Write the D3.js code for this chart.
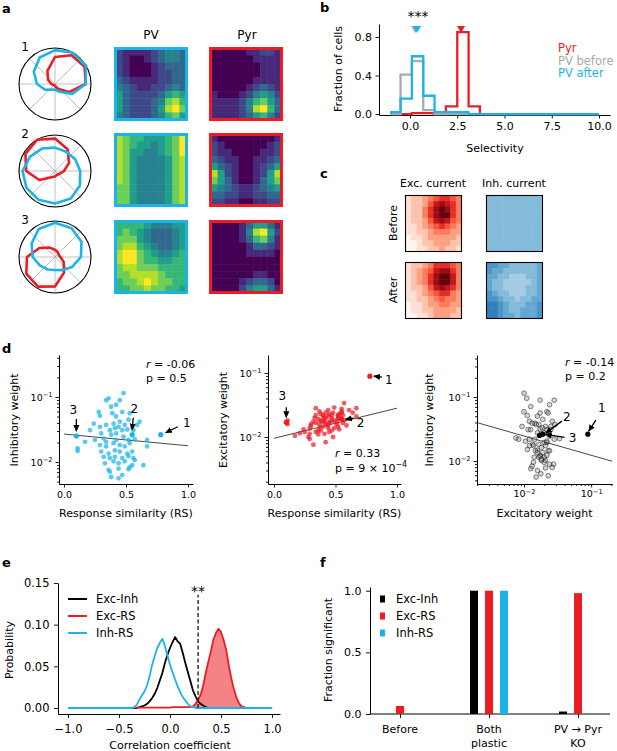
<!DOCTYPE html>
<html>
<head>
<meta charset="utf-8">
<script src="https://cdnjs.cloudflare.com/ajax/libs/d3/7.8.5/d3.min.js"></script>
<style>
  body { margin: 0; background: #fff; }
</style>
</head>
<body>
<script>
// ---------- data ----------
// a: direction tuning (12 directions, normalised) and rate maps (0-9)
const directions = [0, 30, 60, 90, 120, 150, 180, 210, 240, 270, 300, 330];
const pvTuning = [
  [0.85, 1.0, 1.0, 0.94, 0.85, 0.68, 0.5, 0.32, 0.18, 0.16, 0.25, 0.55],
  [0.7, 0.65, 0.62, 0.65, 0.72, 0.8, 0.9, 0.92, 0.92, 0.9, 0.88, 0.8],
  [0.72, 0.85, 0.92, 0.95, 0.9, 0.75, 0.62, 0.48, 0.4, 0.36, 0.42, 0.55]
];
const pyrTuning = [
  [0.85, 0.95, 0.92, 0.75, 0.42, 0.22, 0.1, 0.05, 0.04, 0.06, 0.15, 0.45],
  [0.25, 0.45, 0.7, 0.9, 1.0, 0.95, 0.8, 0.5, 0.2, 0.15, 0.12, 0.15],
  [0.15, 0.12, 0.15, 0.2, 0.3, 0.5, 0.78, 0.92, 0.95, 0.82, 0.5, 0.28]
];
const pvMaps = [
  ["2111123443", "2100123443", "2100012333", "2100012233", "3211112233",
   "4321122343", "5322223565", "5322234786", "5322235897", "4322234675"],
  ["8766555679", "8765545679", "8755445679", "8754444578", "8754444578",
   "8754444578", "8754444578", "7754444578", "7754444578", "7754444578"],
  ["6666544455", "6765433345", "7775433345", "7886543345", "8997654456",
   "8997665566", "7887776666", "7788887666", "6778987766", "6677877665"]
];
const pyrMaps = [
  ["0000011221", "0000001111", "0000000111", "0000000111", "0000001111",
   "0000012321", "1000124542", "1111246753", "1111248963", "1111235642"],
  ["1000000001", "2100000012", "2110000112", "3211001123", "5321001235",
   "8521001258", "7531001357", "5432112345", "3322112233", "2211001122"],
  ["0000135531", "0000148952", "0000136741", "0000013321", "0000011110",
   "0000000000", "0000000000", "0000001100", "0000123320", "0000245531"]
];

// b: selectivity histograms
const selBinEdges = [-1, -0.5, 0.1, 0.7, 1.3, 1.9, 2.5, 3.1, 3.7, 10];
const pyrHist = [0, 0, 0.01, 0.01, 0, 0.08, 0.85, 0.08, 0];
const pvBeforeHist = [0, 0.41, 0.55, 0.04, 0, 0, 0, 0, 0];
const pvAfterHist = [0.02, 0.16, 0.60, 0.19, 0.02, 0.02, 0.02, 0, 0];
const selGroups = ["Pyr", "PV before", "PV after"];
const selMeans = [2.7, 0.27, 0.37];

// c: input current maps (0-9)
const excBefore = ["1223456654", "1223578764", "1224689864", "1224689964", "1223578754",
                   "1123456543", "1122344433", "0112333332", "0012233322", "0011223221"];
const excAfter = ["1223466654", "1234578864", "1234689974", "1234689974", "1223578764",
                  "1123456643", "1122345443", "0112334433", "0112233332", "0011233322"];
const inhBefore = ["4444444444", "4444444444", "4444444444", "4444444444", "4444444444",
                   "4444444444", "4444444444", "4444444444", "4444444444", "4444444444"];
const inhAfter = ["6655444445", "6554444445", "5544333445", "5443333345", "5443333445",
                  "6544333445", "6654434455", "7765444556", "7765445556", "7765545556"];

// d: per-cell response similarity and log10 weights
const rs = [0.48, 0.36, 0.34, 0.42, 0.28, 0.29, 0.39, 0.42, 0.47, 0.52,
            0.55, 0.61, 0.21, 0.29, 0.34, 0.40, 0.44, 0.47, 0.51, 0.56,
            0.10, 0.55, 0.78, 0.25, 0.32, 0.38, 0.42, 0.48, 0.52, 0.57,
            0.67, 0.17, 0.29, 0.34, 0.40, 0.45, 0.49, 0.53, 0.11, 0.11,
            0.30, 0.36, 0.41, 0.45, 0.51, 0.55, 0.32, 0.37, 0.41, 0.47,
            0.52, 0.56, 0.40, 0.44, 0.49, 0.33, 0.55, 0.57, 0.64, 0.36,
            0.44, 0.52, 0.37, 0.47, 0.38, 0.44, 0.53, 0.30, 0.37, 0.45,
            0.49, 0.59, 0.41, 0.53, 0.24, 0.38, 0.45, 0.67, 0.34, 0.42];
const inhLog = [-0.94, -1.02, -1.05, -1.12, -1.23, -1.29, -1.25, -1.30, -1.23, -1.35,
                -1.46, -1.38, -1.51, -1.46, -1.43, -1.41, -1.46, -1.51, -1.50, -1.51,
                -1.60, -1.58, -1.58, -1.66, -1.64, -1.58, -1.56, -1.61, -1.66, -1.65,
                -1.76, -1.69, -1.74, -1.76, -1.71, -1.74, -1.76, -1.71, -1.79, -1.83,
                -1.84, -1.87, -1.82, -1.84, -1.87, -1.84, -1.92, -1.94, -1.92, -1.94,
                -1.91, -1.94, -1.99, -2.02, -1.99, -2.02, -2.05, -1.97, -2.05, -2.12,
                -2.10, -2.11, -2.15, -2.20, -2.23, -2.25, -2.08, -1.56, -1.51, -1.38,
                -1.43, -1.43, -1.48, -1.25, -1.41, -1.15, -1.05, -1.66, -1.69, -1.66];
const excLog = [-2.00, -1.96, -1.55, -1.62, -2.00, -1.95, -1.76, -1.80, -1.66, -1.72,
                -1.60, -1.58, -1.94, -2.03, -1.78, -1.84, -1.68, -1.90, -1.76, -1.66,
                -1.77, -1.72, -1.05, -1.92, -2.12, -1.74, -1.70, -1.62, -1.84, -1.47,
                -1.68, -1.98, -1.87, -1.92, -1.66, -1.78, -1.86, -1.70, -1.74, -1.80,
                -1.83, -1.72, -1.95, -1.64, -1.80, -1.62, -1.76, -1.85, -1.76, -1.70,
                -1.66, -1.78, -1.68, -1.86, -1.74, -1.70, -1.56, -1.74, -1.62, -1.90,
                -1.58, -1.68, -1.80, -1.75, -1.64, -1.82, -1.88, -1.80, -1.60, -1.92,
                -1.54, -1.82, -1.73, -1.64, -1.88, -1.90, -1.76, -1.55, -1.66, -2.08];
const exampleCells = [22, 21, 20];           // cells "1", "2", "3"
const fitInhRS = [-1.57, -0.18];             // intercept, slope (log10 w vs RS)
const fitExcRS = [-2.02, 0.47];
const fitInhExc = [-2.21, -0.30];            // log-log
const statsD = [["-0.06", "0.5"], ["0.33", "9e-4"], ["-0.14", "0.2"]];

// e: null distributions of correlation coefficients (bins -1 .. 1, step 0.025)
const corrBins = d3.range(81).map(i => -1 + i * 0.025);
const distExcInh = [0,0,0,0,0,0,0,0,0,0, 0,0,0,0,0,0,0,0,0,0, 0,0,0,0,0,0,0,0,
  0.001,0.002,0.003,0.005,0.008,0.012,0.017,0.024,0.033,0.042,0.054,0.064,0.072,0.079,
  0.085,0.080,0.077,0.066,0.054,0.043,0.032,0.021,0.014,0.008,0.005,0.003,0.001,
  0,0,0,0,0,0,0,0,0,0, 0,0,0,0,0,0,0,0,0,0, 0,0,0,0,0,0];
const distExcRS = [0,0,0,0,0,0,0,0,0,0, 0,0,0,0,0,0,0,0,0,0, 0,0,0,0,0,0,
  0.0005,0.0005,0.0005,0.0005,0.0005,0.0005,0.0005,0.0005,0.0005,0.0005,0.0005,
  0.0005,0.0005,0.0005,0.0005,0.001,0.001,0.001,0.001,0.001,0.001,0.001,
  0.001,0.002,0.005,0.010,0.016,0.027,0.042,0.055,0.068,0.082,0.090,0.095,0.091,
  0.082,0.070,0.052,0.036,0.023,0.013,0.006,0.002,0.001,
  0,0,0,0,0,0,0,0,0,0,0];
const distInhRS = [0,0,0,0,0,0,0,0,0,0, 0,0,0,0,0,0,0,0,0,0, 0,0,0,0,0,0,
  0.001,0.004,0.010,0.015,0.020,0.027,0.038,0.052,0.062,0.072,0.078,0.083,0.074,
  0.063,0.052,0.043,0.034,0.026,0.019,0.013,0.009,0.005,0.002,0.001,
  0,0,0,0,0,0,0,0,0,0, 0,0,0,0,0,0,0,0,0,0, 0,0,0,0,0,0,0,0,0,0,0];
const sigThreshold = 0.275;
const sigTop = 0.136;

// f: fraction of significant correlations
const conditions = ["Before", "Both plastic", "PV → Pyr KO"];
const conditionLines = [["Before"], ["Both", "plastic"], ["PV → Pyr", "KO"]];
const pairNames = ["Exc-Inh", "Exc-RS", "Inh-RS"];
const fracExcInh = [0, 1.0, 0.02];
const fracExcRS = [0.065, 1.0, 0.98];
const fracInhRS = [0, 1.0, 0];

// ---------- drawing ----------
const FONT = "DejaVu Sans";
const BLUE = "#1cb4e8", RED = "#ec1c24", GRAY = "#aaaaaa";
const pairColors = ["#000000", RED, BLUE];

const svg = d3.select("body").append("svg")
  .attr("width", 617).attr("height", 751)
  .attr("font-family", FONT);

svg.append("defs").append("marker")
  .attr("id", "ah").attr("viewBox", "0 -4 8 8").attr("refX", 7).attr("refY", 0)
  .attr("markerWidth", 7).attr("markerHeight", 7).attr("markerUnits", "userSpaceOnUse")
  .attr("orient", "auto")
  .append("path").attr("d", "M0,-3.5L8,0L0,3.5Z").attr("fill", "#000");

function text(x, y, s, opt = {}) {
  const t = svg.append("text").attr("x", x).attr("y", y).text(s)
    .attr("font-size", opt.size || 11)
    .attr("text-anchor", opt.anchor || "middle")
    .attr("dominant-baseline", opt.baseline || "auto")
    .attr("fill", opt.fill || "#000");
  if (opt.bold) t.attr("font-weight", "bold");
  if (opt.rotate) t.attr("transform", `rotate(-90,${x},${y})`);
  return t;
}

function axis(gen, translate, fs, size = 3.5, pad = 3.5) {
  const g = svg.append("g").attr("transform", translate)
    .call(gen.tickSize(size).tickPadding(pad).tickSizeOuter(0));
  g.attr("font-family", FONT).attr("font-size", fs);
  g.select(".domain").attr("stroke", "#000").attr("stroke-width", 1);
  g.selectAll(".tick line").attr("stroke", "#000").attr("stroke-width", 0.9);
  return g;
}

function logAxis(scale, left, translate, fs) {
  const all = scale.ticks();
  const isMajor = v => Math.abs(Math.log10(v) - Math.round(Math.log10(v))) < 1e-6;
  const major = all.filter(isMajor), minor = all.filter(v => !isMajor(v));
  const mk = left ? d3.axisLeft : d3.axisBottom;
  axis(mk(scale).tickValues(minor).tickFormat(""), translate, fs, 2, 3);
  const g = axis(mk(scale).tickValues(major), translate, fs, 3.5, 3);
  g.select(".domain").remove();
  g.selectAll(".tick text").each(function (d) {
    const t = d3.select(this).text(null);
    t.append("tspan").text("10");
    t.append("tspan").attr("dy", "-0.55em").attr("font-size", fs * 0.7)
      .text("−" + Math.abs(Math.round(Math.log10(d))));
  });
}

function heatmap(rows, x0, y0, size, color, border, bw) {
  const n = rows.length;
  const cx = d3.scaleBand().domain(d3.range(n)).range([x0, x0 + size]);
  const cy = d3.scaleBand().domain(d3.range(n)).range([y0, y0 + size]);
  const cells = rows.flatMap((row, r) => row.split("").map((c, k) => ({ r, k, v: +c })));
  const g = svg.append("g");
  g.selectAll("rect").data(cells).join("rect")
    .attr("x", d => cx(d.k)).attr("y", d => cy(d.r))
    .attr("width", cx.bandwidth() + 0.5).attr("height", cy.bandwidth() + 0.5)
    .attr("fill", d => color(d.v));
  g.append("rect").attr("x", x0).attr("y", y0).attr("width", size).attr("height", size)
    .attr("fill", "none").attr("stroke", border).attr("stroke-width", bw);
}

// panel letters
[["a", 2, 13], ["b", 320, 12], ["c", 320, 178], ["d", 2, 353], ["e", 2, 567], ["f", 320, 567]]
  .forEach(([s, x, y]) => text(x, y, s, { size: 13, bold: true, anchor: "start" }));

// ---- a
const polarR = 36, polarCx = 55;
const rowCy = [84, 171, 257], mapTop = [47, 133, 220];
const rScale = d3.scaleLinear().domain([0, 1]).range([0, polarR]);
const radial = d3.lineRadial()
  .angle(d => (90 - d.dir) * Math.PI / 180)
  .radius(d => rScale(d.r))
  .curve(d3.curveLinearClosed);
const viridis = v => d3.interpolateViridis(v / 9);

text(151, 35, "PV", { size: 12, baseline: "central" });
text(247, 35, "Pyr", { size: 12, baseline: "central" });

rowCy.forEach((cy, i) => {
  const g = svg.append("g").attr("transform", `translate(${polarCx},${cy})`);
  [0, 45, 90, 135].forEach(a => {
    const t = a * Math.PI / 180;
    g.append("line")
      .attr("x1", -polarR * Math.cos(t)).attr("y1", polarR * Math.sin(t))
      .attr("x2", polarR * Math.cos(t)).attr("y2", -polarR * Math.sin(t))
      .attr("stroke", "#b0b0b0").attr("stroke-width", 0.8);
  });
  g.append("circle").attr("r", polarR).attr("fill", "none")
    .attr("stroke", "#000").attr("stroke-width", 1.1);
  g.append("path").attr("d", radial(directions.map((dir, k) => ({ dir, r: pyrTuning[i][k] }))))
    .attr("fill", "none").attr("stroke", RED).attr("stroke-width", 2.6).attr("stroke-linejoin", "round");
  g.append("path").attr("d", radial(directions.map((dir, k) => ({ dir, r: pvTuning[i][k] }))))
    .attr("fill", "none").attr("stroke", BLUE).attr("stroke-width", 2.6).attr("stroke-linejoin", "round");
  text(25, cy - 37, String(i + 1), { size: 12, baseline: "central" });

  heatmap(pvMaps[i], 115.5, mapTop[i] + 1.5, 71, viridis, BLUE, 3);
  heatmap(pyrMaps[i], 210.5, mapTop[i] + 1.5, 71, viridis, RED, 3);
});

// ---- b
const bX = d3.scaleLinear().domain([-1.64, 10.58]).range([379, 610]);
const bY = d3.scaleLinear().domain([-0.01, 0.935]).range([115, 24]);
axis(d3.axisBottom(bX).tickValues([0, 2.5, 5, 7.5, 10]).tickFormat(d3.format(".1f")),
  "translate(0,115)", 11, 3.5, 3.5);
axis(d3.axisLeft(bY).tickValues([0, 0.4, 0.8]).tickFormat(d3.format(".1f")),
  "translate(379,0)", 11, 3.5, 3.5);
text(495, 152, "Selectivity", { size: 11 });
text(338, 69, "Fraction of cells", { size: 11, rotate: true, baseline: "central" });

const stepLine = d3.line().x(d => bX(d[0])).y(d => bY(d[1]));
function stepPts(vals) {
  const pts = [[selBinEdges[0], 0]];
  vals.forEach((v, i) => pts.push([selBinEdges[i], v], [selBinEdges[i + 1], v]));
  pts.push([selBinEdges[selBinEdges.length - 1], 0]);
  return pts;
}
const selColors = [RED, GRAY, BLUE];
[pyrHist, pvBeforeHist, pvAfterHist].forEach((h, i) => {
  svg.append("path").attr("d", stepLine(stepPts(h))).attr("fill", "none")
    .attr("stroke", selColors[i]).attr("stroke-width", 2.3);
});
selMeans.forEach((m, i) => {
  svg.append("path").attr("d", d3.symbol().type(d3.symbolTriangle).size(28)())
    .attr("transform", `translate(${bX(m)},${bY(0.9) + 1}) rotate(180)`)
    .attr("fill", selColors[i]);
});
text(418, 21, "***", { size: 14 });
selGroups.forEach((s, i) => text(558, 48 + i * 12.5, s, { size: 11.5, anchor: "start", baseline: "central", fill: selColors[i] }));

// ---- c
const reds = v => d3.interpolateReds(v / 9);
const blues = v => d3.interpolateBlues(0.1 + v * 0.085);
text(433, 183, "Exc. current", { size: 11, baseline: "central" });
text(514, 183, "Inh. current", { size: 11, baseline: "central" });
text(393, 223, "Before", { size: 11, rotate: true, baseline: "central" });
text(393, 290, "After", { size: 11, rotate: true, baseline: "central" });
heatmap(excBefore, 405.5, 195.5, 56, reds, "#000", 1.1);
heatmap(inhBefore, 486.5, 195.5, 56, blues, "#000", 1.1);
heatmap(excAfter, 405.5, 262.5, 56, reds, "#000", 1.1);
heatmap(inhAfter, 486.5, 262.5, 56, blues, "#000", 1.1);

// ---- d
const dPanels = [
  { x: d3.scaleLinear().domain([-0.04, 1.04]).range([59, 193]),
    y: d3.scaleLog().domain([10 ** -2.338, 10 ** -0.354]).range([484, 355]),
    xv: rs, yv: inhLog, fit: fitInhRS, xlog: false, color: BLUE,
    xLabel: "Response similarity (RS)", yLabel: "Inhibitory weight", yLabelX: 14,
    stats: statsD[0], statsX: 146, statsY: 364,
    ann: [[26, -12, 17, -8, 5, -2], [2, -26, 1, -17, 0, -5], [-3, -26, 0, -17, 0, -5]] },
  { x: d3.scaleLinear().domain([-0.049, 1.033]).range([268, 401]),
    y: d3.scaleLog().domain([10 ** -2.734, 10 ** -0.719]).range([484, 355]),
    xv: rs, yv: excLog, fit: fitExcRS, xlog: false, color: RED,
    xLabel: "Response similarity (RS)", yLabel: "Excitatory weight", yLabelX: 223,
    stats: statsD[1], statsX: 335, statsY: 453,
    ann: [[19, 4, 12, 1, 4, 0], [19, 4, 12, -1, 4, 0], [-4, -26, 0, -15, 0, -5]] },
  { x: d3.scaleLog().domain([10 ** -2.70, 10 ** -0.69]).range([477, 612]),
    y: d3.scaleLog().domain([10 ** -2.359, 10 ** -0.344]).range([484, 355]),
    xv: excLog, yv: inhLog, fit: fitInhExc, xlog: true, color: "#000",
    xLabel: "Excitatory weight", yLabel: "Inhibitory weight", yLabelX: 429,
    stats: statsD[2], statsX: 565, statsY: 362,
    ann: [[14, -26, 8, -14, 1, -3], [24, -17, 19, -13, 3, -1], [33, 3, 25, 2, 6, -1]] }
];

dPanels.forEach((p, pi) => {
  const [x0, x1] = p.x.range();
  if (p.xlog) logAxis(p.x, false, "translate(0,484)", 9.5);
  else axis(d3.axisBottom(p.x).tickValues([0, 0.5, 1]).tickFormat(d3.format(".1f")),
    "translate(0,484)", 9.5, 3.5, 3.5);
  logAxis(p.y, true, `translate(${x0},0)`, 9.5);
  text((x0 + x1) / 2, 517, p.xLabel, { size: 11 });
  text(p.yLabelX, 420, p.yLabel, { size: 11, rotate: true, baseline: "central" });

  // regression line
  const fx = p.xlog ? p.x.domain() : [0, 1];
  const fitY = v => 10 ** (p.fit[0] + p.fit[1] * (p.xlog ? Math.log10(v) : v));
  svg.append("line")
    .attr("x1", p.x(fx[0])).attr("y1", p.y(fitY(fx[0])))
    .attr("x2", p.x(fx[1])).attr("y2", p.y(fitY(fx[1])))
    .attr("stroke", "#333").attr("stroke-width", 0.9);

  const pts = p.xv.map((v, i) => ({ i, x: p.xlog ? 10 ** v : v, y: 10 ** p.yv[i] }));
  const base = pts.filter(d => !exampleCells.includes(d.i));
  const dots = svg.append("g").selectAll("circle").data(base).join("circle")
    .attr("cx", d => p.x(d.x)).attr("cy", d => p.y(d.y)).attr("r", 2.4);
  if (pi < 2) dots.attr("fill", p.color).attr("fill-opacity", 0.72);
  else dots.attr("fill", "#808080").attr("fill-opacity", 0.35)
    .attr("stroke", "#000").attr("stroke-opacity", 0.55).attr("stroke-width", 0.8);

  exampleCells.forEach((ci, k) => {
    const d = pts.find(q => q.i === ci);
    const cx = p.x(d.x), cy = p.y(d.y), a = p.ann[k];
    svg.append("circle").attr("cx", cx).attr("cy", cy).attr("r", 2.6).attr("fill", p.color);
    svg.append("line").attr("x1", cx + a[2]).attr("y1", cy + a[3])
      .attr("x2", cx + a[4]).attr("y2", cy + a[5])
      .attr("stroke", "#000").attr("stroke-width", 1.3).attr("marker-end", "url(#ah)");
    text(cx + a[0], cy + a[1], String(k + 1), { size: 12, baseline: "central" });
  });

  // statistics
  const tr = text(p.statsX, p.statsY, "", { size: 11, anchor: "start", baseline: "central" });
  tr.append("tspan").attr("font-style", "italic").text("r");
  tr.append("tspan").text(" = " + p.stats[0]);
  const tp = text(p.statsX, p.statsY + 14.5, "", { size: 11, anchor: "start", baseline: "central" });
  if (p.stats[1].includes("e")) {
    const [m, e] = p.stats[1].split("e");
    tp.append("tspan").text("p = " + m + " × 10");
    tp.append("tspan").attr("dy", "-0.5em").attr("font-size", 8).text("−" + Math.abs(+e));
  } else tp.text("p = " + p.stats[1]);
});

// ---- e
const eX = d3.scaleLinear().domain([-1.098, 1.078]).range([58, 280]);
const eY = d3.scaleLinear().domain([-0.0072, 0.15]).range([714, 583]);
axis(d3.axisBottom(eX).tickValues([-1, -0.5, 0, 0.5, 1]).tickFormat(d3.format(".1f")),
  "translate(0,714)", 11.5, 4, 6.5);
axis(d3.axisLeft(eY).tickValues([0, 0.05, 0.10, 0.15]).tickFormat(d3.format(".2f")),
  "translate(58,0)", 11.5, 4, 4.5);
text(170, 749, "Correlation coefficient", { size: 11 });
text(9, 650, "Probability", { size: 11, rotate: true, baseline: "central" });

const eLine = d3.line().x((d, i) => eX(corrBins[i])).y(d => eY(d));
const eArea = d3.area().x((d, i) => eX(corrBins[i])).y0(eY(0)).y1(d => eY(d));
svg.append("path").attr("d", eArea(distExcRS)).attr("fill", RED).attr("fill-opacity", 0.55);
[distExcInh, distExcRS, distInhRS].forEach((dist, i) => {
  svg.append("path").attr("d", eLine(dist)).attr("fill", "none")
    .attr("stroke", pairColors[i]).attr("stroke-width", 1.8).attr("stroke-linejoin", "round");
});
svg.append("line").attr("x1", eX(sigThreshold)).attr("x2", eX(sigThreshold))
  .attr("y1", eY(0)).attr("y2", eY(sigTop))
  .attr("stroke", "#000").attr("stroke-width", 1.2).attr("stroke-dasharray", "4,2.5");
text(eX(sigThreshold), 596, "**", { size: 14 });
pairNames.forEach((s, i) => {
  const y = 599 + i * 17;
  svg.append("line").attr("x1", 68).attr("x2", 87).attr("y1", y).attr("y2", y)
    .attr("stroke", pairColors[i]).attr("stroke-width", 2);
  text(96, y, s, { size: 11.5, anchor: "start", baseline: "central" });
});

// ---- f
const fX = d3.scalePoint().domain(conditions).range([400, 578]);
const fSub = d3.scalePoint().domain(pairNames).range([-15, 15]);
const fY = d3.scaleLinear().domain([0, 1.03]).range([714, 587]);
const fx = axis(d3.axisBottom(fX).tickFormat(""), "translate(0,714)", 11, 4, 6.5);
fx.select(".domain").attr("d", "M370,0H610");
conditions.forEach((c, i) => {
  conditionLines[i].forEach((s, j) => text(fX(c), 733 + j * 14, s, { size: 11 }));
});
axis(d3.axisLeft(fY).tickValues([0, 0.5, 1]).tickFormat(d3.format(".1f")),
  "translate(370,0)", 11, 4, 4.5);
text(328, 650, "Fraction significant", { size: 11, rotate: true, baseline: "central" });

[fracExcInh, fracExcRS, fracInhRS].forEach((vals, s) => {
  svg.append("g").selectAll("rect").data(vals).join("rect")
    .attr("x", (d, i) => fX(conditions[i]) + fSub(pairNames[s]) - 4)
    .attr("width", 8)
    .attr("y", d => fY(d)).attr("height", d => fY(0) - fY(d))
    .attr("fill", pairColors[s]);
});
pairNames.forEach((s, i) => {
  const y = 599 + i * 17;
  svg.append("rect").attr("x", 380).attr("y", y - 3.5).attr("width", 5).attr("height", 7)
    .attr("fill", pairColors[i]);
  text(396, y, s, { size: 11.5, anchor: "start", baseline: "central" });
});
</script>
</body>
</html>
